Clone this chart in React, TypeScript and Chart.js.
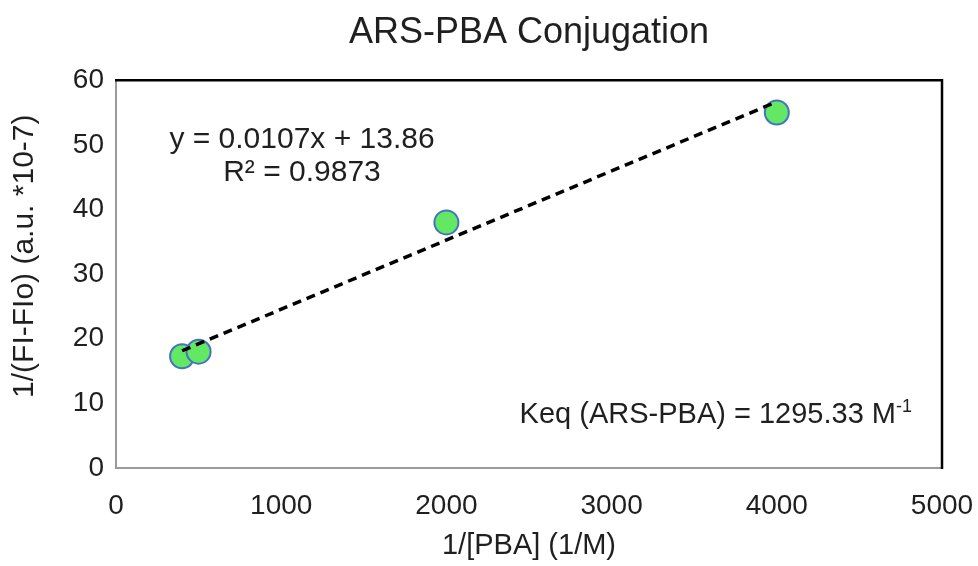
import React, { useEffect, useRef } from "react";
import { Chart, registerables } from "chart.js";

Chart.register(...registerables);

// Measured points: 1/[PBA] (1/M) vs 1/(FI-FIo)
const pbaInverse = [400, 500, 2000, 4000];
const fluorInverse = [17.3, 18.0, 38.0, 55.0];

// Linear fit as reported on the chart
const fitSlope = 0.0107;
const fitIntercept = 13.86;
const fitRSquared = 0.9873;
const keqValue = 1295.33;

const xTicks = [0, 1000, 2000, 3000, 4000, 5000];
const yTicks = [0, 10, 20, 30, 40, 50, 60];

const FONT = "'Liberation Sans', Arial, sans-serif";
const TEXT = "#1f1f1f";
const Y_TITLE = "1/(FI-FIo) (a.u. *10-7)";

const plotFrame = {
  id: "plotFrame",
  afterDraw(chart: any) {
    const { ctx, chartArea: a } = chart;
    ctx.save();
    // left and bottom edges in grey, top and right in black
    ctx.lineWidth = 2;
    ctx.strokeStyle = "#9a9a9a";
    ctx.beginPath();
    ctx.moveTo(a.left, a.top);
    ctx.lineTo(a.left, a.bottom);
    ctx.lineTo(a.right, a.bottom);
    ctx.stroke();
    ctx.strokeStyle = "#000";
    ctx.lineWidth = 2.5;
    ctx.beginPath();
    ctx.moveTo(a.left - 1, a.top);
    ctx.lineTo(a.right, a.top);
    ctx.lineTo(a.right, a.bottom + 1);
    ctx.stroke();

    ctx.fillStyle = TEXT;

    // Vertical axis title
    ctx.save();
    ctx.translate(25, a.top + 176);
    ctx.rotate(-Math.PI / 2);
    ctx.font = `30px ${FONT}`;
    ctx.textAlign = "center";
    ctx.textBaseline = "middle";
    ctx.fillText(Y_TITLE, 0, 0);
    ctx.restore();

    // Fit equation and R² annotation
    ctx.font = `30px ${FONT}`;
    ctx.textAlign = "center";
    ctx.textBaseline = "alphabetic";
    const cx = a.left + 186;
    ctx.fillText(`y = ${fitSlope}x + ${fitIntercept}`, cx, a.top + 68);
    ctx.fillText(`R² = ${fitRSquared}`, cx, a.top + 101);

    // Equilibrium constant annotation with superscript unit
    const main = `Keq (ARS-PBA) = ${keqValue.toFixed(2)} M`;
    const sup = "-1";
    ctx.font = `18px ${FONT}`;
    const supW = ctx.measureText(sup).width;
    ctx.font = `29px ${FONT}`;
    const mainW = ctx.measureText(main).width;
    const endX = a.right - 30;
    ctx.textAlign = "left";
    ctx.fillText(main, endX - supW - mainW, a.top + 343);
    ctx.font = `18px ${FONT}`;
    ctx.fillText(sup, endX - supW, a.top + 332);
    ctx.restore();
  },
};

export default function App() {
  const ref = useRef<HTMLCanvasElement>(null);

  useEffect(() => {
    document.body.style.margin = "0";
    const xStart = pbaInverse[0];
    const xEnd = pbaInverse[pbaInverse.length - 1];
    const trend = [
      { x: xStart, y: fitSlope * xStart + fitIntercept },
      { x: xEnd, y: fitSlope * xEnd + fitIntercept },
    ];
    const chart = new Chart(ref.current!, {
      type: "scatter",
      data: {
        datasets: [
          {
            type: "line",
            label: "Linear fit",
            data: trend,
            borderColor: "#000",
            borderWidth: 3.5,
            borderDash: [9, 6],
            pointRadius: 0,
            fill: false,
            order: 0,
          },
          {
            label: "ARS-PBA",
            data: pbaInverse.map((x, i) => ({ x, y: fluorInverse[i] })),
            backgroundColor: "#62E862",
            borderColor: "#4472C4",
            borderWidth: 2,
            pointRadius: 12,
            order: 1,
          },
        ],
      },
      options: {
        animation: false,
        responsive: false,
        layout: { padding: { top: 0, right: 36, bottom: 0, left: 0 } },
        plugins: {
          legend: { display: false },
          tooltip: { enabled: false },
          title: {
            display: true,
            fullSize: false,
            text: "ARS-PBA Conjugation",
            color: TEXT,
            font: { family: FONT, size: 36, weight: "normal" },
            padding: { top: 11, bottom: 26 },
          },
        },
        scales: {
          x: {
            type: "linear",
            min: 0,
            max: 5000,
            afterBuildTicks: (s: any) => {
              s.ticks = xTicks.map((v) => ({ value: v }));
            },
            afterFit: (s: any) => {
              s.height = 98;
              s.paddingLeft = 0;
              s.paddingRight = 0;
            },
            grid: { display: false, drawTicks: false },
            border: { display: false },
            ticks: {
              color: TEXT,
              font: { family: FONT, size: 28 },
              padding: 21,
              maxRotation: 0,
              callback: (v: any) => String(v),
            },
            title: {
              display: true,
              text: "1/[PBA] (1/M)",
              color: TEXT,
              font: { family: FONT, size: 29 },
              padding: { top: 0, bottom: 3 },
            },
          },
          y: {
            type: "linear",
            min: 0,
            max: 60,
            afterBuildTicks: (s: any) => {
              s.ticks = yTicks.map((v) => ({ value: v }));
            },
            afterFit: (s: any) => {
              s.width = 116;
              s.paddingTop = 0;
              s.paddingBottom = 0;
            },
            grid: { display: false, drawTicks: false },
            border: { display: false },
            ticks: {
              color: TEXT,
              font: { family: FONT, size: 28 },
              padding: 12,
              callback: (v: any) => String(v),
            },
            title: { display: false },
          },
        },
      },
      plugins: [plotFrame],
    } as any);
    return () => chart.destroy();
  }, []);

  return (
    <div style={{ width: 978, height: 566 }}>
      <canvas ref={ref} width={978} height={566} style={{ display: "block" }} />
    </div>
  );
}
